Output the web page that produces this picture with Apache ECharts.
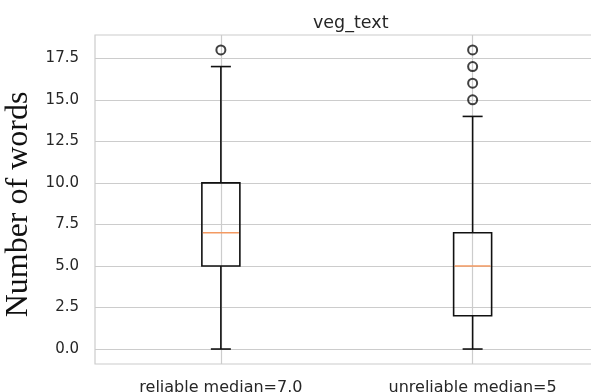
<!DOCTYPE html>
<html>
<head>
<meta charset="utf-8">
<script src="https://cdn.jsdelivr.net/npm/echarts@6/dist/echarts.min.js"></script>
<style>html,body{margin:0;padding:0;background:#fff;}#c{width:591px;height:392px;}</style>
</head>
<body>
<div id="c"></div>
<script>
const titleText = 'veg_text';
const yAxisName = 'Number of words';
const categories = ['reliable median=7.0', 'unreliable median=5'];
const whiskerLow = [0, 0];
const q1 = [5, 2];
const median = [7, 5];
const q3 = [10, 7];
const whiskerHigh = [17, 14];
const outliers = [[18], [15, 16, 17, 18]];
const yTickValues = [0, 2.5, 5, 7.5, 10, 12.5, 15, 17.5];
const yMin = -0.9, yMax = 18.9;

const boxData = categories.map((c, i) => [i, whiskerLow[i], q1[i], median[i], q3[i], whiskerHigh[i]]);
const outlierData = [];
outliers.forEach((arr, i) => arr.forEach(v => outlierData.push([i, v])));

const textColor = '#262626';
const gridColor = '#cccccc';
const chart = echarts.init(document.getElementById('c'), null, {renderer: 'canvas'});
chart.setOption({
  backgroundColor: '#ffffff',
  animation: false,
  title: {
    text: titleText, left: 308, top: 9,
    textStyle: {fontFamily: 'DejaVu Sans', fontSize: 17.5, fontWeight: 'normal', color: textColor}
  },
  grid: {left: 95, top: 35, width: 503.5, height: 329, outerBoundsMode: 'none', containLabel: false,
    show: true, borderColor: gridColor, borderWidth: 1.2, backgroundColor: '#fff'},
  xAxis: {
    type: 'category', data: categories, boundaryGap: true,
    axisLine: {show: false}, axisTick: {show: false},
    axisLabel: {fontFamily: 'DejaVu Sans', fontSize: 16, color: textColor, margin: 16},
    splitLine: {show: true, alignWithLabel: true, lineStyle: {color: gridColor, width: 1.2}}
  },
  yAxis: {
    type: 'value', min: yMin, max: yMax,
    name: yAxisName, nameLocation: 'middle', nameGap: 57,
    nameTextStyle: {fontFamily: 'Liberation Serif', fontSize: 32, color: '#111', padding: [0, 10, 0, 0]},
    axisLine: {show: false},
    axisTick: {show: false, customValues: yTickValues},
    axisLabel: {customValues: yTickValues, fontFamily: 'DejaVu Sans', fontSize: 15, color: textColor, margin: 16,
      formatter: v => Number(v).toFixed(1)},
    splitLine: {show: true, lineStyle: {color: gridColor, width: 1.2}}
  },
  series: [
    {
      type: 'custom', data: boxData, z: 3,
      encode: {x: 0, y: [1, 2, 3, 4, 5]},
      renderItem: function (params, api) {
        const x = api.value(0);
        const pLow = api.coord([x, api.value(1)]);
        const pQ1 = api.coord([x, api.value(2)]);
        const pMed = api.coord([x, api.value(3)]);
        const pQ3 = api.coord([x, api.value(4)]);
        const pHigh = api.coord([x, api.value(5)]);
        const bw = 38, cw = 20, cx = pQ1[0];
        const ls = {stroke: '#111', lineWidth: 1.6, fill: null};
        return {
          type: 'group',
          children: [
            {type: 'line', shape: {x1: cx, y1: pLow[1], x2: cx, y2: pQ1[1]}, style: ls},
            {type: 'line', shape: {x1: cx, y1: pQ3[1], x2: cx, y2: pHigh[1]}, style: ls},
            {type: 'line', shape: {x1: cx - cw / 2, y1: pLow[1], x2: cx + cw / 2, y2: pLow[1]}, style: ls},
            {type: 'line', shape: {x1: cx - cw / 2, y1: pHigh[1], x2: cx + cw / 2, y2: pHigh[1]}, style: ls},
            {type: 'rect', shape: {x: cx - bw / 2, y: pQ3[1], width: bw, height: pQ1[1] - pQ3[1]}, style: {stroke: '#111', lineWidth: 1.6, fill: 'rgba(0,0,0,0)'}},
            {type: 'line', shape: {x1: cx - bw / 2 + 1, y1: pMed[1], x2: cx + bw / 2 - 1, y2: pMed[1]}, style: {stroke: '#f39a62', lineWidth: 1.6}}
          ]
        };
      }
    },
    {
      type: 'scatter', data: outlierData, z: 4,
      symbol: 'circle', symbolSize: 9,
      itemStyle: {color: 'rgba(0,0,0,0)', borderColor: '#111', borderWidth: 2}
    }
  ]
});
</script>
</body>
</html>
